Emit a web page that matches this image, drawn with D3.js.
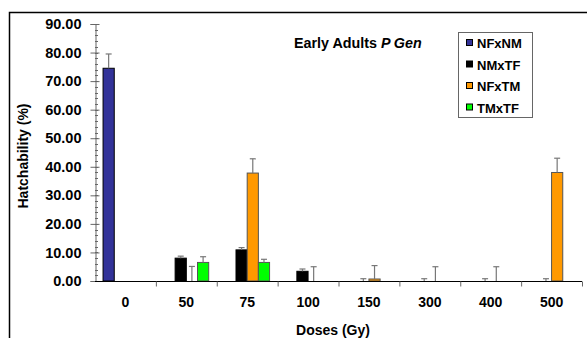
<!DOCTYPE html>
<html>
<head>
<meta charset="utf-8">
<script src="https://cdn.jsdelivr.net/npm/d3@7"></script>
<style>
  body { margin: 0; background: #fff; }
  svg text { font-family: "Liberation Sans", Arial, sans-serif; font-weight: bold; }
</style>
</head>
<body>
<div id="chart"></div>
<script>
// Data
var doses = ["0", "50", "75", "100", "150", "300", "400", "500"];
var series = ["NFxNM", "NMxTF", "NFxTM", "TMxTF"];
var colors = ["#333399", "#000000", "#FF9900", "#00FF00"];
// mean values (null = no bar / no error bar)
var NFxNM = [74.5, null, null, null, null, null, null, null];
var NMxTF = [null, 8.0, 10.9, 3.4, 0, 0, 0, 0];
var NFxTM = [null, 0, 37.8, 0, 0.7, 0, 0, 38.0];
var TMxTF = [null, 6.5, 6.5, null, null, null, null, null];
// upper error (top of the whisker)
var NFxNMerr = [79.5, null, null, null, null, null, null, null];
var NMxTFerr = [null, 8.7, 11.7, 4.2, 0.8, 0.8, 0.8, 0.8];
var NFxTMerr = [null, 5.1, 42.8, 5.0, 5.4, 5.0, 5.0, 43.0];
var TMxTFerr = [null, 8.5, 7.6, null, null, null, null, null];
var yTicks = [0, 10, 20, 30, 40, 50, 60, 70, 80, 90];

var values = [NFxNM, NMxTF, NFxTM, TMxTF];
var errs = [NFxNMerr, NMxTFerr, NFxTMerr, TMxTFerr];

var data = [];
series.forEach(function(s, i) {
  doses.forEach(function(d, j) {
    if (values[i][j] !== null) {
      data.push({dose: d, series: s, value: values[i][j], err: errs[i][j], color: colors[i]});
    }
  });
});

var width = 587, height = 338;
var margin = {top: 24, right: 5, bottom: 57, left: 95};

var svg = d3.select("#chart").append("svg")
    .attr("width", width)
    .attr("height", height);

// outer frame (top and left edges visible)
svg.append("path")
    .attr("d", "M9.5," + height + "V12.5H" + width)
    .attr("fill", "none")
    .attr("stroke", "#000")
    .attr("stroke-width", 1.5);

var x = d3.scaleBand()
    .domain(doses)
    .range([margin.left, width - margin.right]);

var x1 = d3.scaleBand()
    .domain(series)
    .range([0, x.bandwidth()])
    .paddingOuter(0.72);

var y = d3.scaleLinear()
    .domain([0, 90])
    .range([height - margin.bottom, margin.top]);

// minor ticks
svg.append("g")
    .attr("transform", "translate(" + margin.left + ",0)")
    .selectAll("line")
    .data(d3.range(0, 91, 2))
    .enter().append("line")
    .attr("x1", 0).attr("x2", 3)
    .attr("y1", function(d) { return Math.round(y(d)) + 0.5; })
    .attr("y2", function(d) { return Math.round(y(d)) + 0.5; })
    .attr("stroke", "#666");

// y axis
var yAxis = svg.append("g")
    .attr("transform", "translate(" + (margin.left + 0.5) + ",0)")
    .call(d3.axisLeft(y).tickValues(yTicks).tickSize(5).tickPadding(9)
      .tickFormat(function(d) { return d3.format(".2f")(d); }));
yAxis.select(".domain").attr("stroke", "#666");
yAxis.selectAll(".tick line").attr("stroke", "#666").attr("x2", 4).attr("x1", -5);
yAxis.selectAll(".tick text")
    .attr("font-size", 14.5)
    .attr("fill", "#000");

// bars
svg.append("g").selectAll("rect")
    .data(data)
    .enter().append("rect")
    .attr("x", function(d) { return x(d.dose) + x1(d.series); })
    .attr("y", function(d) { return y(d.value); })
    .attr("width", x1.bandwidth())
    .attr("height", function(d) { return y(0) - y(d.value); })
    .attr("fill", function(d) { return d.color; })
    .attr("stroke", function(d) { return d.color === "#333399" || d.color === "#000000" ? "#000" : "#555"; })
    .attr("stroke-width", 1);

// error bars (upper only)
var eb = svg.append("g").selectAll("g")
    .data(data.filter(function(d) { return d.err !== null; }))
    .enter().append("g")
    .attr("stroke", "#777")
    .attr("stroke-width", 1.2);
eb.append("line")
    .attr("x1", function(d) { return x(d.dose) + x1(d.series) + x1.bandwidth() / 2; })
    .attr("x2", function(d) { return x(d.dose) + x1(d.series) + x1.bandwidth() / 2; })
    .attr("y1", function(d) { return y(d.value); })
    .attr("y2", function(d) { return y(d.err); });
eb.append("line")
    .attr("x1", function(d) { return x(d.dose) + x1(d.series) + x1.bandwidth() / 2 - 3; })
    .attr("x2", function(d) { return x(d.dose) + x1(d.series) + x1.bandwidth() / 2 + 3; })
    .attr("y1", function(d) { return y(d.err); })
    .attr("y2", function(d) { return y(d.err); });

// x axis
var xAxis = svg.append("g")
    .attr("transform", "translate(0," + (y(0) + 0.5) + ")")
    .call(d3.axisBottom(x).tickSize(0).tickPadding(16));
xAxis.select(".domain").attr("stroke", "#000").attr("d", "M" + margin.left + ",0H" + (width - margin.right));
xAxis.selectAll(".tick text").attr("font-size", 14).attr("fill", "#000");
xAxis.selectAll(".sep")
    .data(doses)
    .enter().append("line")
    .attr("x1", function(d) { return x(d) + x.bandwidth() + 0.5; })
    .attr("x2", function(d) { return x(d) + x.bandwidth() + 0.5; })
    .attr("y1", 0).attr("y2", 5)
    .attr("stroke", "#666");

// axis titles
svg.append("text")
    .attr("transform", "translate(28," + 156 + ") rotate(-90)")
    .attr("text-anchor", "middle")
    .attr("font-size", 14)
    .text("Hatchability (%)");

svg.append("text")
    .attr("x", 333)
    .attr("y", 335)
    .attr("text-anchor", "middle")
    .attr("font-size", 14)
    .text("Doses (Gy)");

// chart title
var title = svg.append("text")
    .attr("x", 294)
    .attr("y", 48)
    .attr("font-size", 14.3);
title.append("tspan").text("Early Adults ");
title.append("tspan").attr("font-style", "italic").text("P Gen");

// legend
var legend = svg.append("g").attr("transform", "translate(458,32)");
legend.append("rect")
    .attr("x", 0.5).attr("y", 0.5)
    .attr("width", 74).attr("height", 85)
    .attr("fill", "#fff")
    .attr("stroke", "#666");
var item = legend.selectAll(".item")
    .data(series)
    .enter().append("g")
    .attr("transform", function(d, i) { return "translate(0," + (11 + i * 21.5) + ")"; });
item.append("rect")
    .attr("x", 8.5).attr("y", -3.5)
    .attr("width", 6).attr("height", 6)
    .attr("fill", function(d, i) { return colors[i]; })
    .attr("stroke", "#000");
item.append("text")
    .attr("x", 19)
    .attr("y", 5)
    .attr("font-size", 13)
    .text(function(d) { return d; });
</script>
</body>
</html>
